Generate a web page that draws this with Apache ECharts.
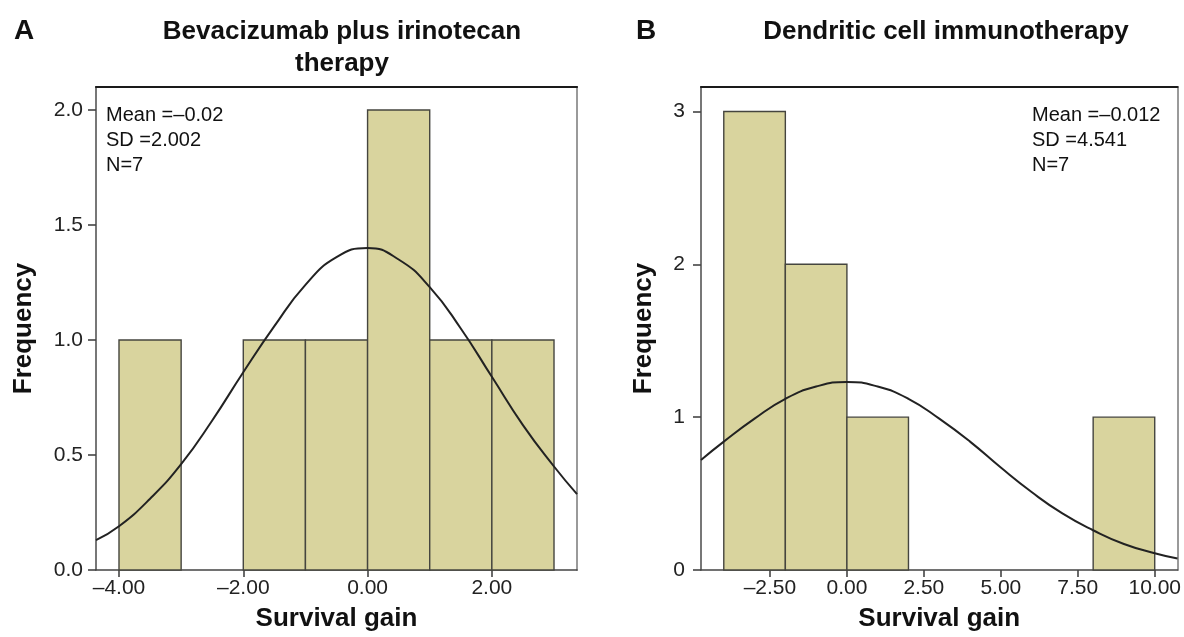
<!DOCTYPE html>
<html>
<head>
<meta charset="utf-8">
<script src="https://cdn.jsdelivr.net/npm/echarts@6/dist/echarts.min.js"></script>
<style>html,body{margin:0;padding:0;background:#fff}#c{width:1184px;height:637px}</style>
</head>
<body>
<div id="c"></div>
<script>
// ---- Data ----
const titleA = 'Bevacizumab plus irinotecan\ntherapy';
const titleB = 'Dendritic cell immunotherapy';
// Histogram bins: [start, end, count]
const binsA = [[-4, -3, 1], [-2, -1, 1], [-1, 0, 1], [0, 1, 2], [1, 2, 1], [2, 3, 1]];
const binsB = [[-4, -2, 3], [-2, 0, 2], [0, 2, 1], [8, 10, 1]];
// Normal curve points: x values and heights
const curveAx = [-4.37, -4, -3.5, -3, -2.5, -2, -1.5, -1, -0.5, 0, 0.5, 1, 1.5, 2, 2.5, 3, 3.37];
const curveAy = [0.13, 0.19, 0.31, 0.46, 0.65, 0.86, 1.06, 1.24, 1.36, 1.40, 1.35, 1.23, 1.05, 0.84, 0.63, 0.45, 0.33];
const curveBx = [-4.74, -4, -3, -2, -1, 0, 1, 2, 3, 4, 5, 6, 7, 8, 9, 10, 10.74];
const curveBy = [0.72, 0.84, 0.99, 1.12, 1.20, 1.23, 1.20, 1.12, 0.99, 0.84, 0.67, 0.51, 0.37, 0.26, 0.17, 0.11, 0.075];
// Tick values
const xTicksA = [-4, -2, 0, 2];
const yTicksA = [0, 0.5, 1, 1.5, 2];
const xTicksB = [-2.5, 0, 2.5, 5, 7.5, 10];
const yTicksB = [0, 1, 2, 3];
const statsA = ['Mean =\u20130.02', 'SD =2.002', 'N=7'];
const statsB = ['Mean =\u20130.012', 'SD =4.541', 'N=7'];

const FONT = 'Liberation Sans, Arial, Helvetica, sans-serif';
const BAR_FILL = '#d9d49e';
const BAR_EDGE = '#45453f';
const fmtX = v => v.toFixed(2).replace('-', '\u2013');

function histRender(params, api) {
  const x0 = api.value(0), x1 = api.value(1), h = api.value(2);
  const p0 = api.coord([x0, h]);
  const p1 = api.coord([x1, 0]);
  return {
    type: 'rect',
    shape: { x: p0[0], y: p0[1], width: p1[0] - p0[0], height: p1[1] - p0[1] },
    style: { fill: BAR_FILL, stroke: BAR_EDGE, lineWidth: 1.4 }
  };
}

function xAxisCfg(idx, min, max, ticks) {
  return {
    gridIndex: idx, type: 'value', min: min, max: max, position: 'bottom',
    name: 'Survival gain', nameLocation: 'middle', nameGap: 36,
    nameTextStyle: { fontFamily: FONT, fontWeight: 'bold', fontSize: 26, color: '#111' },
    axisLine: { onZero: false, lineStyle: { color: '#444', width: 1.6 } },
    axisTick: { show: true, length: 7, customValues: ticks, lineStyle: { color: '#444', width: 1.6 } },
    axisLabel: { customValues: ticks, formatter: fmtX, fontFamily: FONT, fontSize: 21, color: '#222', margin: 8 },
    splitLine: { show: false }
  };
}
function yAxisCfg(idx, min, max, ticks, dec, gap, margin) {
  return {
    gridIndex: idx, type: 'value', min: min, max: max, position: 'left',
    name: 'Frequency', nameLocation: 'middle', nameGap: gap,
    nameTextStyle: { fontFamily: FONT, fontWeight: 'bold', fontSize: 26, color: '#111' },
    axisLine: { show: true, onZero: false, lineStyle: { color: '#555', width: 1.6 } },
    axisTick: { show: true, length: 8, customValues: ticks, lineStyle: { color: '#444', width: 1.6 } },
    axisLabel: { customValues: ticks, formatter: v => v.toFixed(dec), fontFamily: FONT, fontSize: 21, color: '#222', margin: margin },
    splitLine: { show: false }
  };
}
function frameX(idx, min, max) {
  return { gridIndex: idx, type: 'value', min: min, max: max, position: 'top',
    axisLine: { show: true, onZero: false, lineStyle: { color: '#1a1a1a', width: 2.2 } },
    axisTick: { show: false }, axisLabel: { show: false }, splitLine: { show: false } };
}
function frameY(idx, min, max) {
  return { gridIndex: idx, type: 'value', min: min, max: max, position: 'right',
    axisLine: { show: true, onZero: false, lineStyle: { color: '#9a9a9a', width: 2 } },
    axisTick: { show: false }, axisLabel: { show: false }, splitLine: { show: false } };
}

const chart = echarts.init(document.getElementById('c'), null, { renderer: 'canvas' });
chart.setOption({
  animation: false,
  backgroundColor: '#fff',
  title: [
    { text: 'A', left: 9, top: 12, textStyle: { fontFamily: FONT, fontWeight: 'bold', fontSize: 28, color: '#111' } },
    { text: titleA, left: 337, top: 11, textAlign: 'center',
      textStyle: { fontFamily: FONT, fontWeight: 'bold', fontSize: 26, color: '#111', lineHeight: 32 } },
    { text: 'B', left: 631, top: 12, textStyle: { fontFamily: FONT, fontWeight: 'bold', fontSize: 28, color: '#111' } },
    { text: titleB, left: 941, top: 11, textAlign: 'center',
      textStyle: { fontFamily: FONT, fontWeight: 'bold', fontSize: 26, color: '#111', lineHeight: 32 } }
  ],
  grid: [
    { left: 96, top: 87, width: 481, height: 483 },
    { left: 701, top: 87, width: 480, height: 483 }
  ],
  xAxis: [xAxisCfg(0, -4.37, 3.37, xTicksA), xAxisCfg(1, -4.74, 10.74, xTicksB), frameX(0, -4.37, 3.37), frameX(1, -4.74, 10.74)],
  yAxis: [yAxisCfg(0, 0, 2.1, yTicksA, 1, 59, 13), yAxisCfg(1, 0, 3.16, yTicksB, 0, 44, 16), frameY(0, 0, 2.1), frameY(1, 0, 3.16)],
  graphic: [
    { type: 'text', left: 106, top: 103, style: { text: statsA.join('\n'), font: '20px ' + FONT, fill: '#111', lineHeight: 25 } },
    { type: 'text', left: 1032, top: 103, style: { text: statsB.join('\n'), font: '20px ' + FONT, fill: '#111', lineHeight: 25 } }
  ],
  series: [
    { type: 'custom', xAxisIndex: 0, yAxisIndex: 0, renderItem: histRender, data: binsA, encode: { x: [0, 1], y: 2 }, z: 2 },
    { type: 'line', xAxisIndex: 0, yAxisIndex: 0, smooth: true, showSymbol: false, z: 3,
      lineStyle: { color: '#222', width: 2 }, data: curveAx.map((x, i) => [x, curveAy[i]]) },
    { type: 'custom', xAxisIndex: 1, yAxisIndex: 1, renderItem: histRender, data: binsB, encode: { x: [0, 1], y: 2 }, z: 2 },
    { type: 'line', xAxisIndex: 1, yAxisIndex: 1, smooth: true, showSymbol: false, z: 3,
      lineStyle: { color: '#222', width: 2 }, data: curveBx.map((x, i) => [x, curveBy[i]]) }
  ]
});
</script>
</body>
</html>
